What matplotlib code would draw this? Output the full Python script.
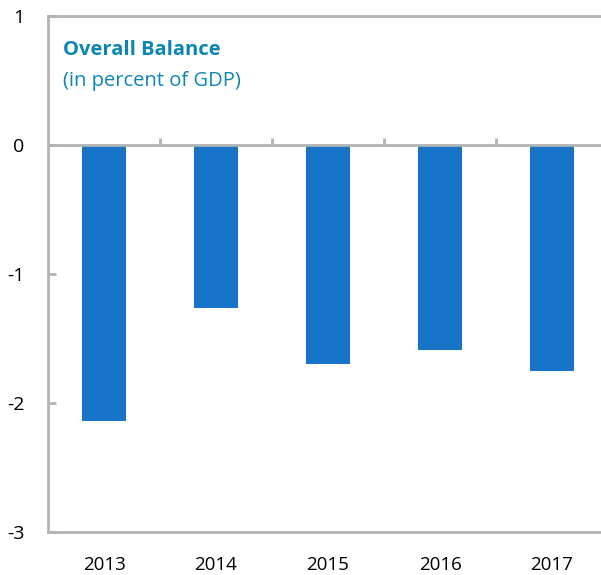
import matplotlib.pyplot as plt

years = ['2013', '2014', '2015', '2016', '2017']
balance = [-2.14, -1.26, -1.70, -1.59, -1.75]

plt.rcParams['font.family'] = ['Open Sans', 'DejaVu Sans']

grey = '#b3b3b3'
fig = plt.figure(figsize=(6.01, 5.75), dpi=100)
ax = fig.add_axes([48 / 601, 43 / 575, 560 / 601, 516 / 575])

x = list(range(len(years)))
ax.bar(x, balance, width=0.4, color='#1874c8', zorder=2)

ax.set_xlim(-0.5, len(years) - 0.5)
ax.set_ylim(-3, 1)

# zero line with small ticks between categories
ax.axhline(0, color=grey, lw=2, zorder=3)
ax.vlines([i + 0.5 for i in range(len(years) - 1)], 0, 0.055, color=grey, lw=2, zorder=3)

ax.set_xticks(x)
ax.set_xticklabels(years)
ax.set_yticks([1, 0, -1, -2, -3])
ax.set_yticklabels(['1', '0', '-1', '-2', '-3'])
ax.tick_params(axis='x', length=0, pad=17, labelsize=13.5)
ax.tick_params(axis='y', direction='in', length=6, width=2, color=grey, pad=17, labelsize=14)

for side in ['left', 'top', 'bottom']:
    ax.spines[side].set_color(grey)
    ax.spines[side].set_linewidth(2)
ax.spines['right'].set_visible(False)

ax.text(0.027, 0.934, 'Overall Balance', transform=ax.transAxes, color='#0b86b4',
        fontsize=14.5, fontweight='bold', va='center')
ax.text(0.027, 0.874, '(in percent of GDP)', transform=ax.transAxes, color='#0b86b4',
        fontsize=14.5, va='center')

fig.savefig('out.png', dpi=100)
